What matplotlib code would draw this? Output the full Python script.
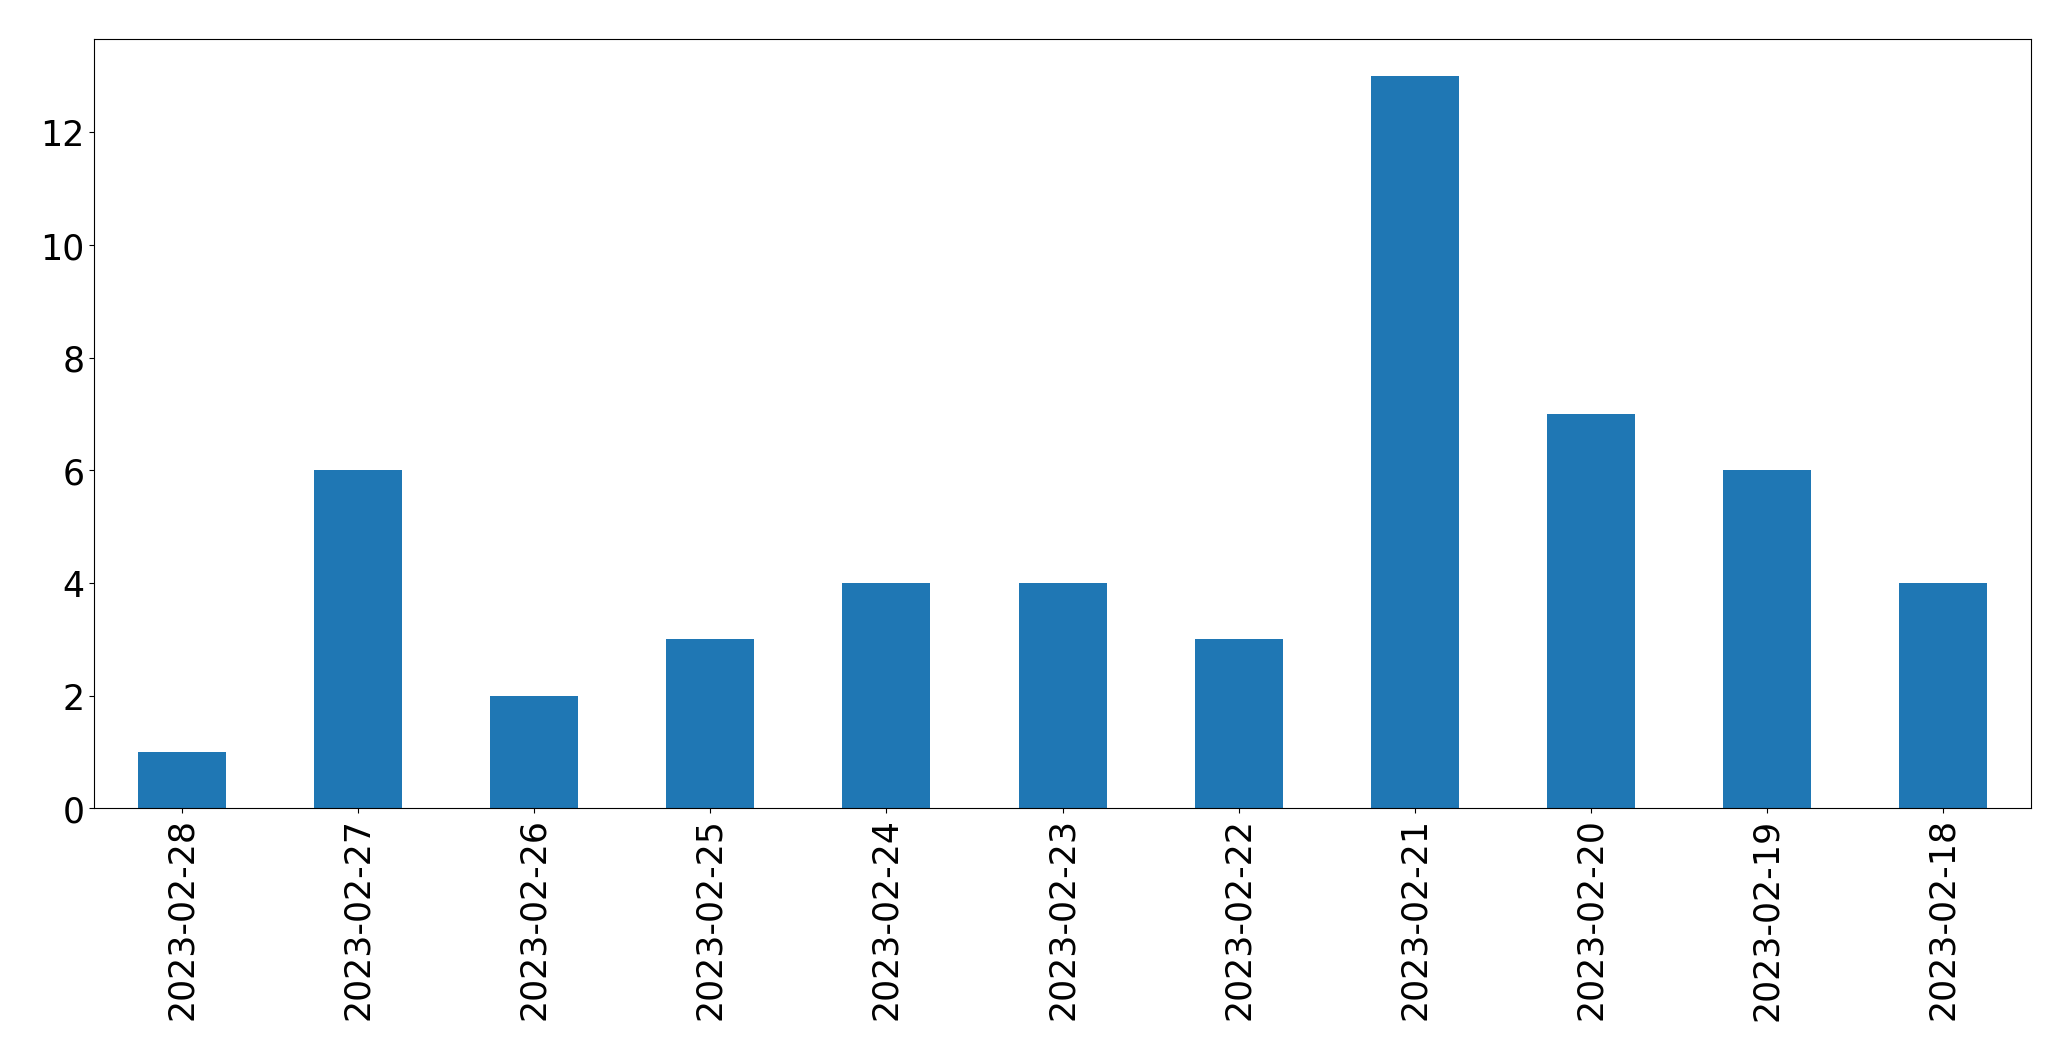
import pandas as pd
import matplotlib
matplotlib.use("Agg")
import matplotlib.pyplot as plt

dates = ['2023-02-28', '2023-02-27', '2023-02-26', '2023-02-25', '2023-02-24',
         '2023-02-23', '2023-02-22', '2023-02-21', '2023-02-20', '2023-02-19',
         '2023-02-18']
counts = [1, 6, 2, 3, 4, 4, 3, 13, 7, 6, 4]

s = pd.Series(counts, index=dates)

fig, ax = plt.subplots(figsize=(20.71, 10.605), dpi=100)
s.plot(kind='bar', ax=ax, color='#1f77b4')
ax.tick_params(axis='both', labelsize=25)
fig.subplots_adjust(left=0.0454, right=0.9807, top=0.9623, bottom=0.2375)
fig.savefig('out.png', dpi=100)
